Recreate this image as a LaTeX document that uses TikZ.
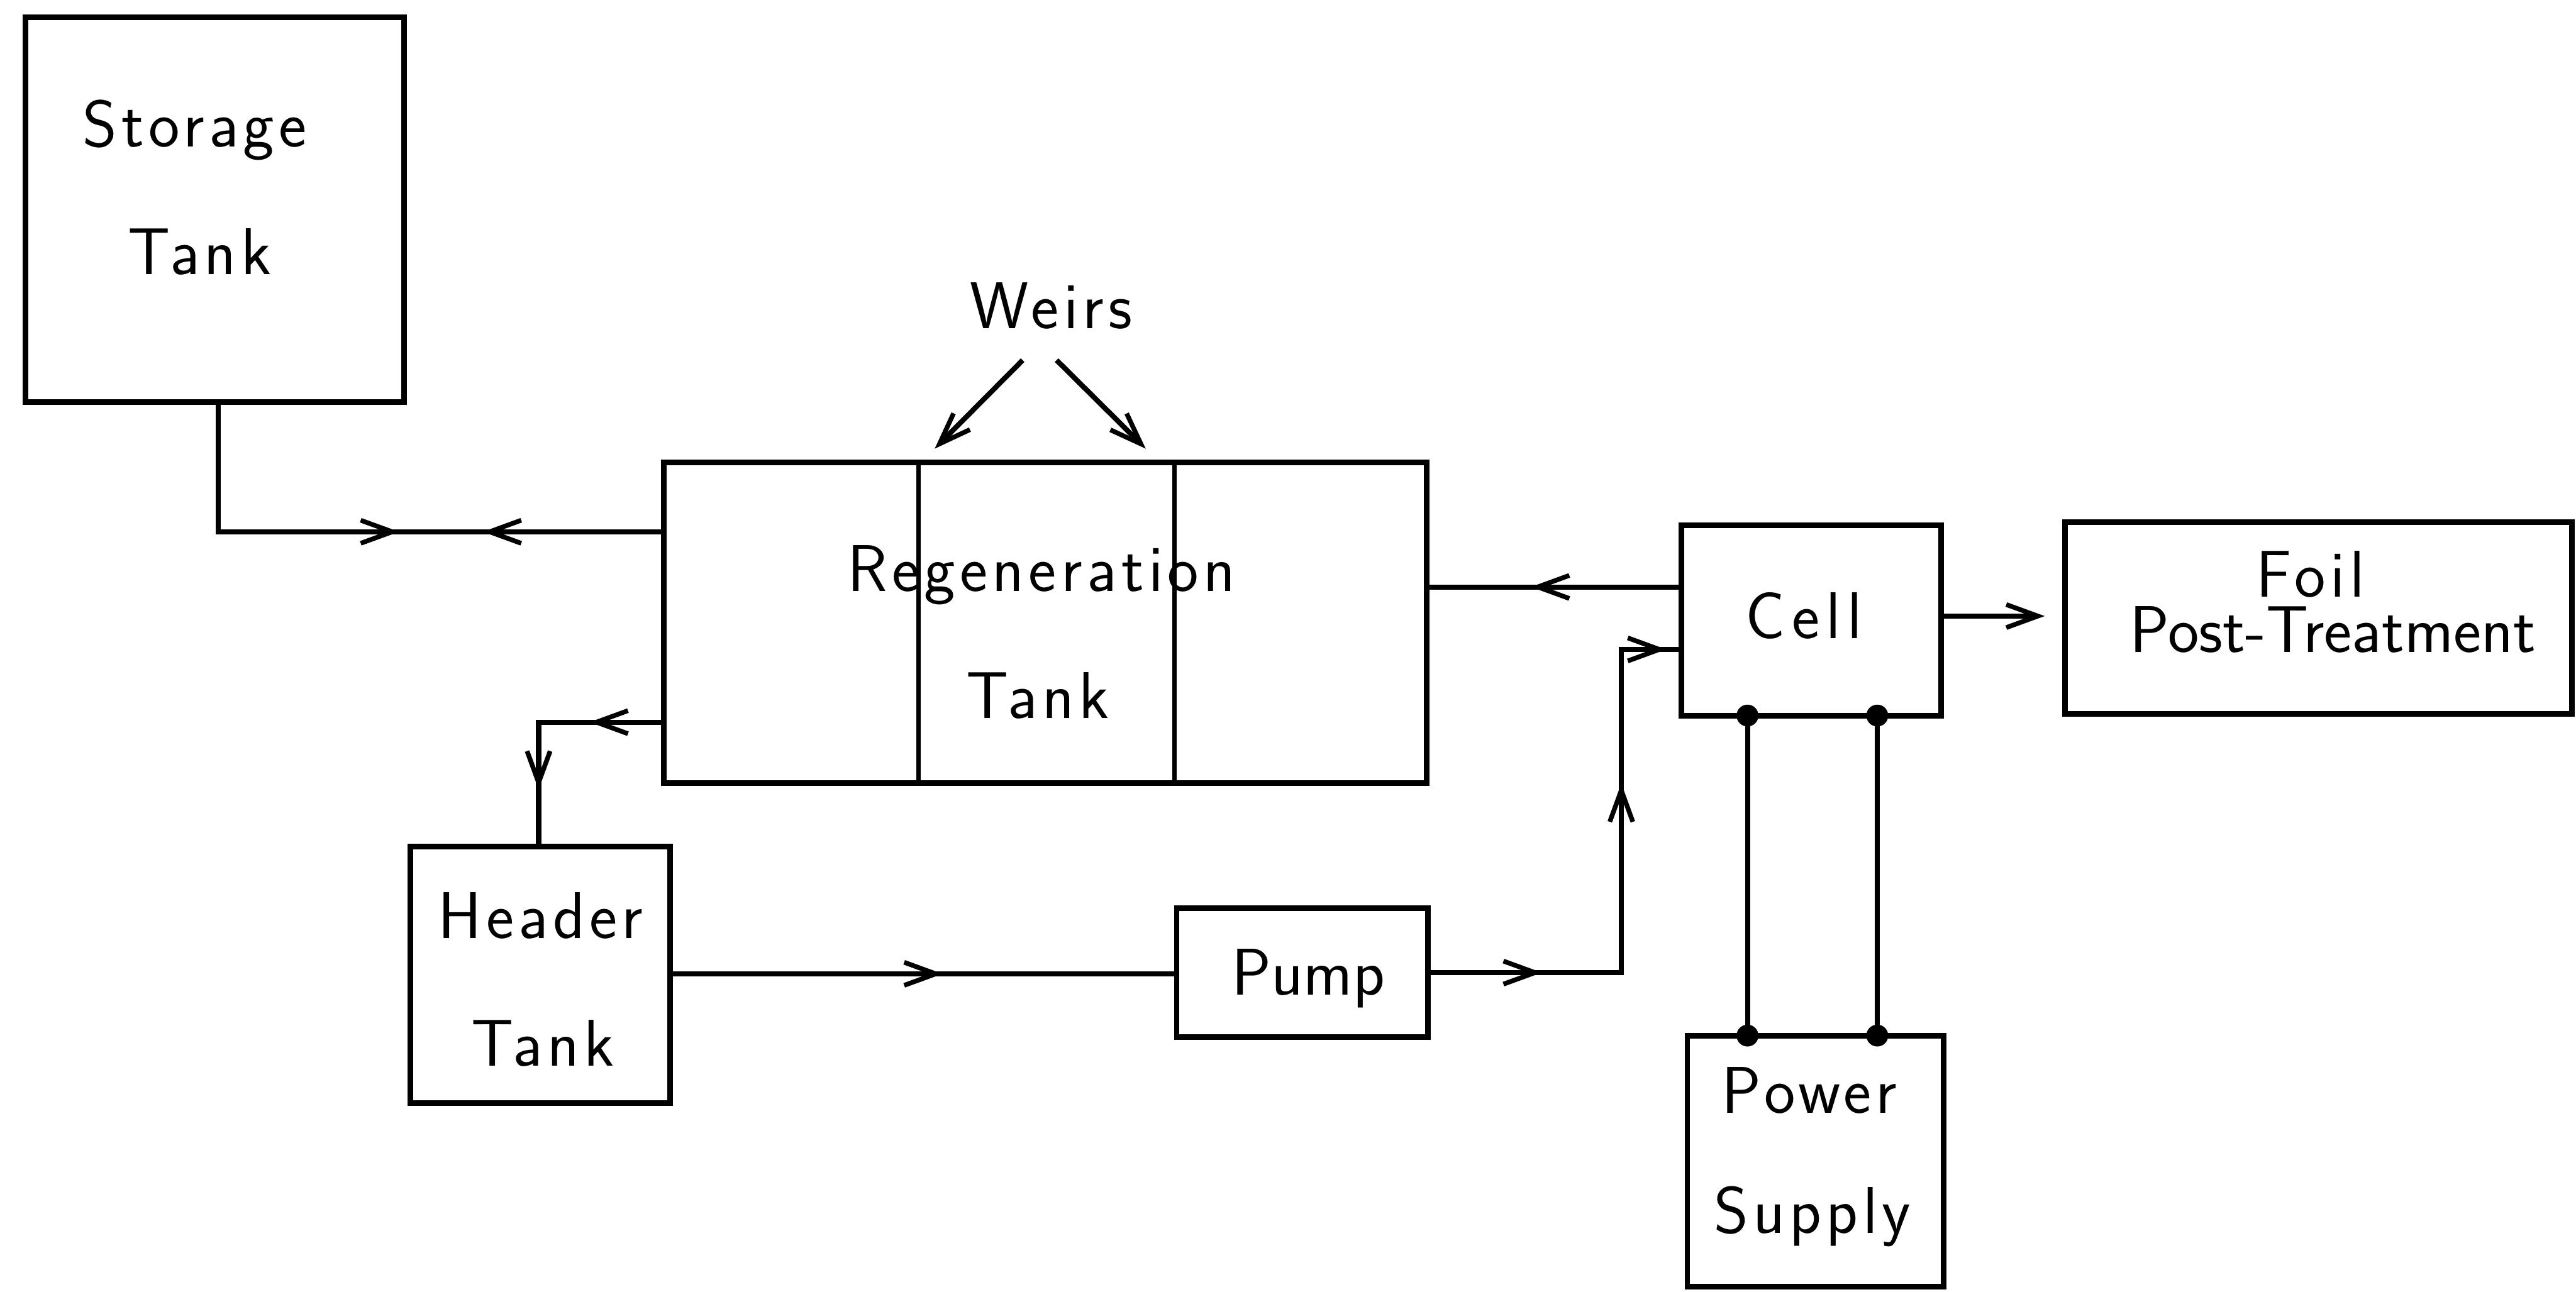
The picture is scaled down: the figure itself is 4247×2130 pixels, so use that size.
\documentclass[tikz,border=0pt]{standalone}
\usepackage{fontspec}
\usetikzlibrary{arrows.meta}
\newfontfamily\plotA{Latin Modern Sans}[LetterSpace=7]
\newfontfamily\plotC{Latin Modern Sans}[LetterSpace=10]
\begin{document}
\begin{tikzpicture}[x=0.01cm,y=-0.01cm,
  box/.style={draw,line width=2.6pt,inner sep=0pt,outer sep=0pt},
  txt/.style={anchor=base,inner sep=0pt,font=\plotA\fontsize{31}{36}\selectfont},
  txtn/.style={anchor=base,inner sep=0pt,font=\sffamily\fontsize{31}{36}\selectfont},
  txtw/.style={anchor=base,inner sep=0pt,font=\plotC\fontsize{31}{36}\selectfont},
  pipe/.style={line width=2.4pt},
  arr/.style={-{Straight Barb[length=5.2mm,width=3.8mm,line width=2.2pt]}},
  wire/.style={line width=2.4pt}]
\useasboundingbox (0,0) rectangle (4247,2130);
% boxes
\node[box,minimum width=6.24cm,minimum height=6.34cm] (storage) at (354,346) {};
\node[box,minimum width=12.57cm,minimum height=5.28cm] (regen) at (1723.5,1027) {};
\node[box,minimum width=4.28cm,minimum height=4.23cm] (header) at (891,1607.5) {};
\node[box,minimum width=4.14cm,minimum height=2.12cm] (pump) at (2147,1604) {};
\node[box,minimum width=4.28cm,minimum height=3.14cm] (cell) at (2986,1023) {};
\node[box,minimum width=8.35cm,minimum height=3.16cm] (foil) at (3822.5,1019) {};
\node[box,minimum width=4.22cm,minimum height=4.14cm] (power) at (2993,1915) {};
% weirs inside regeneration tank
\coordinate (d1) at (1514,0);
\coordinate (d2) at (1936,0);
\draw[line width=2pt] (regen.north -| d1) -- (regen.south -| d1);
\draw[line width=2pt] (regen.north -| d2) -- (regen.south -| d2);
% texts
\node[txt] (t1) at (321,242) {Storage};
\node[txt] (t2) at (329,453) {Tank};
\node[txt] (weirs) at (1733,542) {Weirs};
\node[txt] (t3) at (1717,975) {Regeneration};
\node[txt] (t4) at (1711,1185) {Tank};
\node[txt] (t5) at (891,1548) {Header};
\node[txt] (t6) at (895,1758) {Tank};
\node[txtn] (t7) at (2157,1641) {Pump};
\node[txtw] (t8) at (2974,1053) {Cell};
\node[txt] (t9) at (3809,985) {Foil};
\node[txtn] (t10) at (3846,1076) {Post-Treatment};
\node[txt] (t11) at (2983,1836) {Power};
\node[txt] (t12) at (2988,2034) {Supply};
% weirs arrows
\coordinate (wa) at (1686,594);
\coordinate (wb) at (1742,594);
\coordinate (wA) at (1541,740);
\coordinate (wB) at (1889,740);
\draw[pipe,arr] (wa) -- (wA);
\draw[pipe,arr] (wb) -- (wB);
% storage <-> regeneration
\coordinate (sb) at (360,877);
\coordinate (sA) at (658,877);
\coordinate (sB) at (796,877);
\draw[pipe] (storage.south -| sb) -- (sb) -- (regen.west |- sb);
\draw[pipe,arr] (sb) -- (sA);
\draw[pipe,arr] (regen.west |- sb) -- (sB);
% regeneration -> header
\coordinate (hA) at (972,1191);
\coordinate (hb) at (888,1191);
\coordinate (hB) at (888,1302);
\draw[pipe] (regen.west |- hA) -- (hb) -- (header.north -| hb);
\draw[pipe,arr] (regen.west |- hA) -- (hA);
\draw[pipe,arr] (hb) -- (hB);
% header -> pump
\coordinate (pA) at (1554,1606);
\draw[pipe] (header.east |- pA) -- (pump.west |- pA);
\draw[pipe,arr] (header.east |- pA) -- (pA);
% pump -> cell
\coordinate (qA) at (2542,1604);
\coordinate (qb) at (2673,1604);
\coordinate (qB) at (2673,1292);
\coordinate (qc) at (2673,1071);
\coordinate (qC) at (2747,1071);
\draw[pipe] (pump.east) -- (qb) -- (qc) -- (cell.west |- qc);
\draw[pipe,arr] (pump.east) -- (qA);
\draw[pipe,arr] (qb) -- (qB);
\draw[pipe,arr] (qc) -- (qC);
% cell -> regeneration
\coordinate (rA) at (2524,968);
\draw[pipe] (cell.west |- rA) -- (regen.east |- rA);
\draw[pipe,arr] (cell.west |- rA) -- (rA);
% cell -> foil
\coordinate (fA) at (3371,1016);
\draw[pipe,arr] (cell.east |- fA) -- (fA);
% power wires
\coordinate (w1) at (2881,0);
\coordinate (w2) at (3095,0);
\draw[wire] (cell.south -| w1) -- (power.north -| w1);
\draw[wire] (cell.south -| w2) -- (power.north -| w2);
\fill (cell.south -| w1) circle[radius=0.18cm];
\fill (cell.south -| w2) circle[radius=0.18cm];
\fill (power.north -| w1) circle[radius=0.18cm];
\fill (power.north -| w2) circle[radius=0.18cm];
\end{tikzpicture}
\end{document}
